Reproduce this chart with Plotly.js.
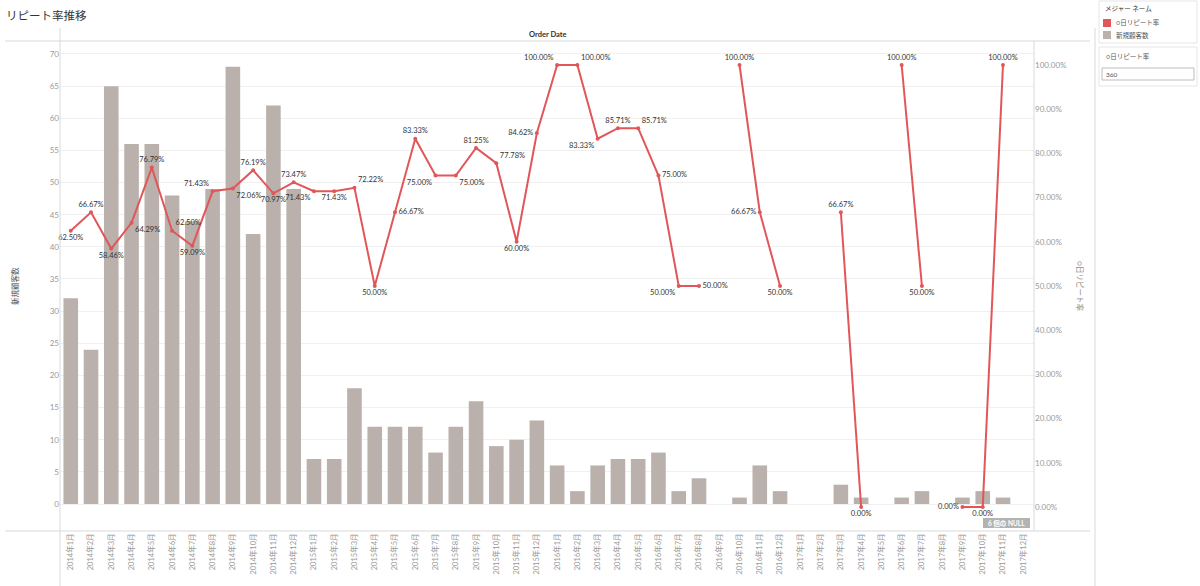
<!DOCTYPE html>
<html>
<head>
<meta charset="utf-8">
<script src="https://cdn.plot.ly/plotly-3.0.1.min.js"></script>
<style>
  html, body { margin: 0; padding: 0; background: #ffffff; }
  #chart { width: 1200px; height: 586px; }
</style>
</head>
<body>
<div id="chart"></div>
<script>
// ---- data ----
const months = [
  "2014年1月","2014年2月","2014年3月","2014年4月","2014年5月","2014年6月",
  "2014年7月","2014年8月","2014年9月","2014年10月","2014年11月","2014年12月",
  "2015年1月","2015年2月","2015年3月","2015年4月","2015年5月","2015年6月",
  "2015年7月","2015年8月","2015年9月","2015年10月","2015年11月","2015年12月",
  "2016年1月","2016年2月","2016年3月","2016年4月","2016年5月","2016年6月",
  "2016年7月","2016年8月","2016年9月","2016年10月","2016年11月","2016年12月",
  "2017年1月","2017年2月","2017年3月","2017年4月","2017年5月","2017年6月",
  "2017年7月","2017年8月","2017年9月","2017年10月","2017年11月","2017年12月"
];
const newCustomers = [
  32, 24, 65, 56, 56, 48, 44, 49, 68, 42, 62, 49,
   7,  7, 18, 12, 12, 12,  8, 12, 16,  9, 10, 13,
   6,  2,  6,  7,  7,  8,  2,  4,  0,  1,  6,  2,
   0,  0,  3,  1,  0,  1,  2,  0,  1,  2,  1,  0
];
const repeatRate = [
  0.6250, 0.6667, 0.5846, 0.6429, 0.7679, 0.6250, 0.5909, 0.7143, 0.7206, 0.7619, 0.7097, 0.7347,
  0.7143, 0.7143, 0.7222, 0.5000, 0.6667, 0.8333, 0.7500, 0.7500, 0.8125, 0.7778, 0.6000, 0.8462,
  1.0000, 1.0000, 0.8333, 0.8571, 0.8571, 0.7500, 0.5000, 0.5000, null,   1.0000, 0.6667, 0.5000,
  null,   null,   0.6667, 0.0000, null,   1.0000, 0.5000, null,   0.0000, 0.0000, 1.0000, null
];
const labelPos = [
  "bottom center","top center","bottom center","bottom right","top center","top right",
  "bottom center","top left","bottom right","top center","bottom center","top center",
  "bottom left","bottom center","top right","bottom center","middle right","top center",
  "bottom left","bottom right","top center","top right","bottom center","middle left",
  "top left","top right","bottom left","top center","top right","middle right",
  "bottom left","middle right","top center","top center","middle left","bottom center",
  "top center","top center","top center","bottom center","top center","top center",
  "bottom center","top center","middle left","bottom center","top center","top center"
];
const seriesNames = ["○日リピート率", "新規顧客数"];
const nullCountText = "6 個の NULL";
const parameterValue = "360";

// ---- geometry helpers (pixel -> paper) ----
const L = 60, R = 1034, T = 41, B = 531;
const px = v => (v - L) / (R - L);
const py = v => (B - v) / (B - T);

const FONT = "Lato, 'Noto Sans CJK JP', sans-serif";
const RED = "#e15759", GREY = "#bab0ac";

const bars = {
  type: "bar", x: months, y: newCustomers, name: seriesNames[1],
  marker: { color: GREY }, width: 0.72, yaxis: "y", hoverinfo: "skip"
};
const line = {
  type: "scatter", mode: "lines+markers+text", x: months, y: repeatRate,
  name: seriesNames[0], yaxis: "y2", connectgaps: false,
  line: { color: RED, width: 2 }, marker: { color: RED, size: 4 },
  texttemplate: "%{y:.2%}", textposition: labelPos,
  textfont: { family: FONT, size: 7.5, color: "#333333" },
  cliponaxis: false, hoverinfo: "skip"
};

const lineColor = "#d9d9d9";
const shapes = [
  { type: "line", xref: "paper", yref: "paper", x0: px(5), x1: px(1090), y0: py(41), y1: py(41), line: { color: lineColor, width: 1 } },
  { type: "line", xref: "paper", yref: "paper", x0: px(5), x1: px(1090), y0: py(531), y1: py(531), line: { color: lineColor, width: 1 } },
  { type: "line", xref: "paper", yref: "paper", x0: px(60), x1: px(60), y0: py(28), y1: py(586), line: { color: lineColor, width: 1 } },
  { type: "line", xref: "paper", yref: "paper", x0: px(1034), x1: px(1034), y0: py(41), y1: py(531), line: { color: lineColor, width: 1 } },
  { type: "line", xref: "paper", yref: "paper", x0: px(1095), x1: px(1095), y0: py(28), y1: py(586), line: { color: lineColor, width: 1 } },
  { type: "rect", xref: "paper", yref: "paper", x0: px(1099), x1: px(1197), y0: py(1), y1: py(43), line: { color: "#e6e6e6", width: 1 }, fillcolor: "rgba(0,0,0,0)" },
  { type: "rect", xref: "paper", yref: "paper", x0: px(1103), x1: px(1111), y0: py(19), y1: py(27), line: { width: 0 }, fillcolor: RED },
  { type: "rect", xref: "paper", yref: "paper", x0: px(1103), x1: px(1111), y0: py(31), y1: py(39), line: { width: 0 }, fillcolor: GREY },
  { type: "rect", xref: "paper", yref: "paper", x0: px(1099), x1: px(1197), y0: py(47), y1: py(86), line: { color: "#e6e6e6", width: 1 }, fillcolor: "rgba(0,0,0,0)" },
  { type: "rect", xref: "paper", yref: "paper", x0: px(1102), x1: px(1194), y0: py(68), y1: py(80), line: { color: "#bdbdbd", width: 1 }, fillcolor: "#ffffff" },
  { type: "rect", xref: "paper", yref: "paper", x0: px(983), x1: px(1030), y0: py(518), y1: py(528), line: { width: 0 }, fillcolor: "#b3b3b3" }
];

const ann = (text, x, y, opts) => Object.assign({
  text, xref: "paper", yref: "paper", x: px(x), y: py(y), showarrow: false,
  xanchor: "left", yanchor: "middle", font: { family: FONT, size: 6.5, color: "#555555" }
}, opts || {});

const annotations = [
  ann("リピート率推移", 4, 15, { font: { family: FONT, size: 11.5, color: "#333333" } }),
  ann("<b>Order Date</b>", 548, 34, { xanchor: "center", font: { family: FONT, size: 7.5, color: "#333333" } }),
  ann("新規顧客数", 15, 286, { xanchor: "center", textangle: -90, font: { family: FONT, size: 7.5, color: "#555555" } }),
  ann("○日リピート率", 1080, 286, { xanchor: "center", textangle: 90, font: { family: FONT, size: 7.5, color: "#888888" } }),
  ann("メジャー ネーム", 1103, 8, { font: { family: FONT, size: 6.5, color: "#333333" } }),
  ann(seriesNames[0], 1114, 23),
  ann(seriesNames[1], 1114, 35),
  ann(seriesNames[0], 1104, 57),
  ann(parameterValue, 1104, 74),
  ann("<b>" + nullCountText + "</b>", 1006.5, 523, { xanchor: "center", font: { family: FONT, size: 6.5, color: "#ffffff" } })
];

const layout = {
  width: 1200, height: 586,
  margin: { l: L, r: 1200 - R, t: T, b: 586 - B, pad: 0 },
  paper_bgcolor: "#ffffff", plot_bgcolor: "#ffffff",
  showlegend: false, bargap: 0.28,
  font: { family: FONT, size: 8, color: "#999999" },
  xaxis: {
    type: "category", range: [-0.53, 47.53], tickangle: -90,
    showgrid: false, zeroline: false, showline: false, ticks: "",
    tickfont: { family: FONT, size: 7.5, color: "#999999" }, automargin: false
  },
  yaxis: {
    range: [-4.2, 72.02], dtick: 5, tick0: 0, showgrid: true, gridcolor: "#f0f0f0",
    zeroline: false, showline: false, ticks: "", automargin: false,
    tickfont: { family: FONT, size: 8, color: "#999999" }
  },
  yaxis2: {
    overlaying: "y", side: "right", range: [-0.0543, 1.0543], dtick: 0.1, tick0: 0,
    tickformat: ".2%", showgrid: false, zeroline: false, showline: false, ticks: "",
    automargin: false, tickfont: { family: FONT, size: 8, color: "#999999" }
  },
  shapes, annotations
};

Plotly.newPlot("chart", [bars, line], layout, { displayModeBar: false, staticPlot: true });
</script>
</body>
</html>
